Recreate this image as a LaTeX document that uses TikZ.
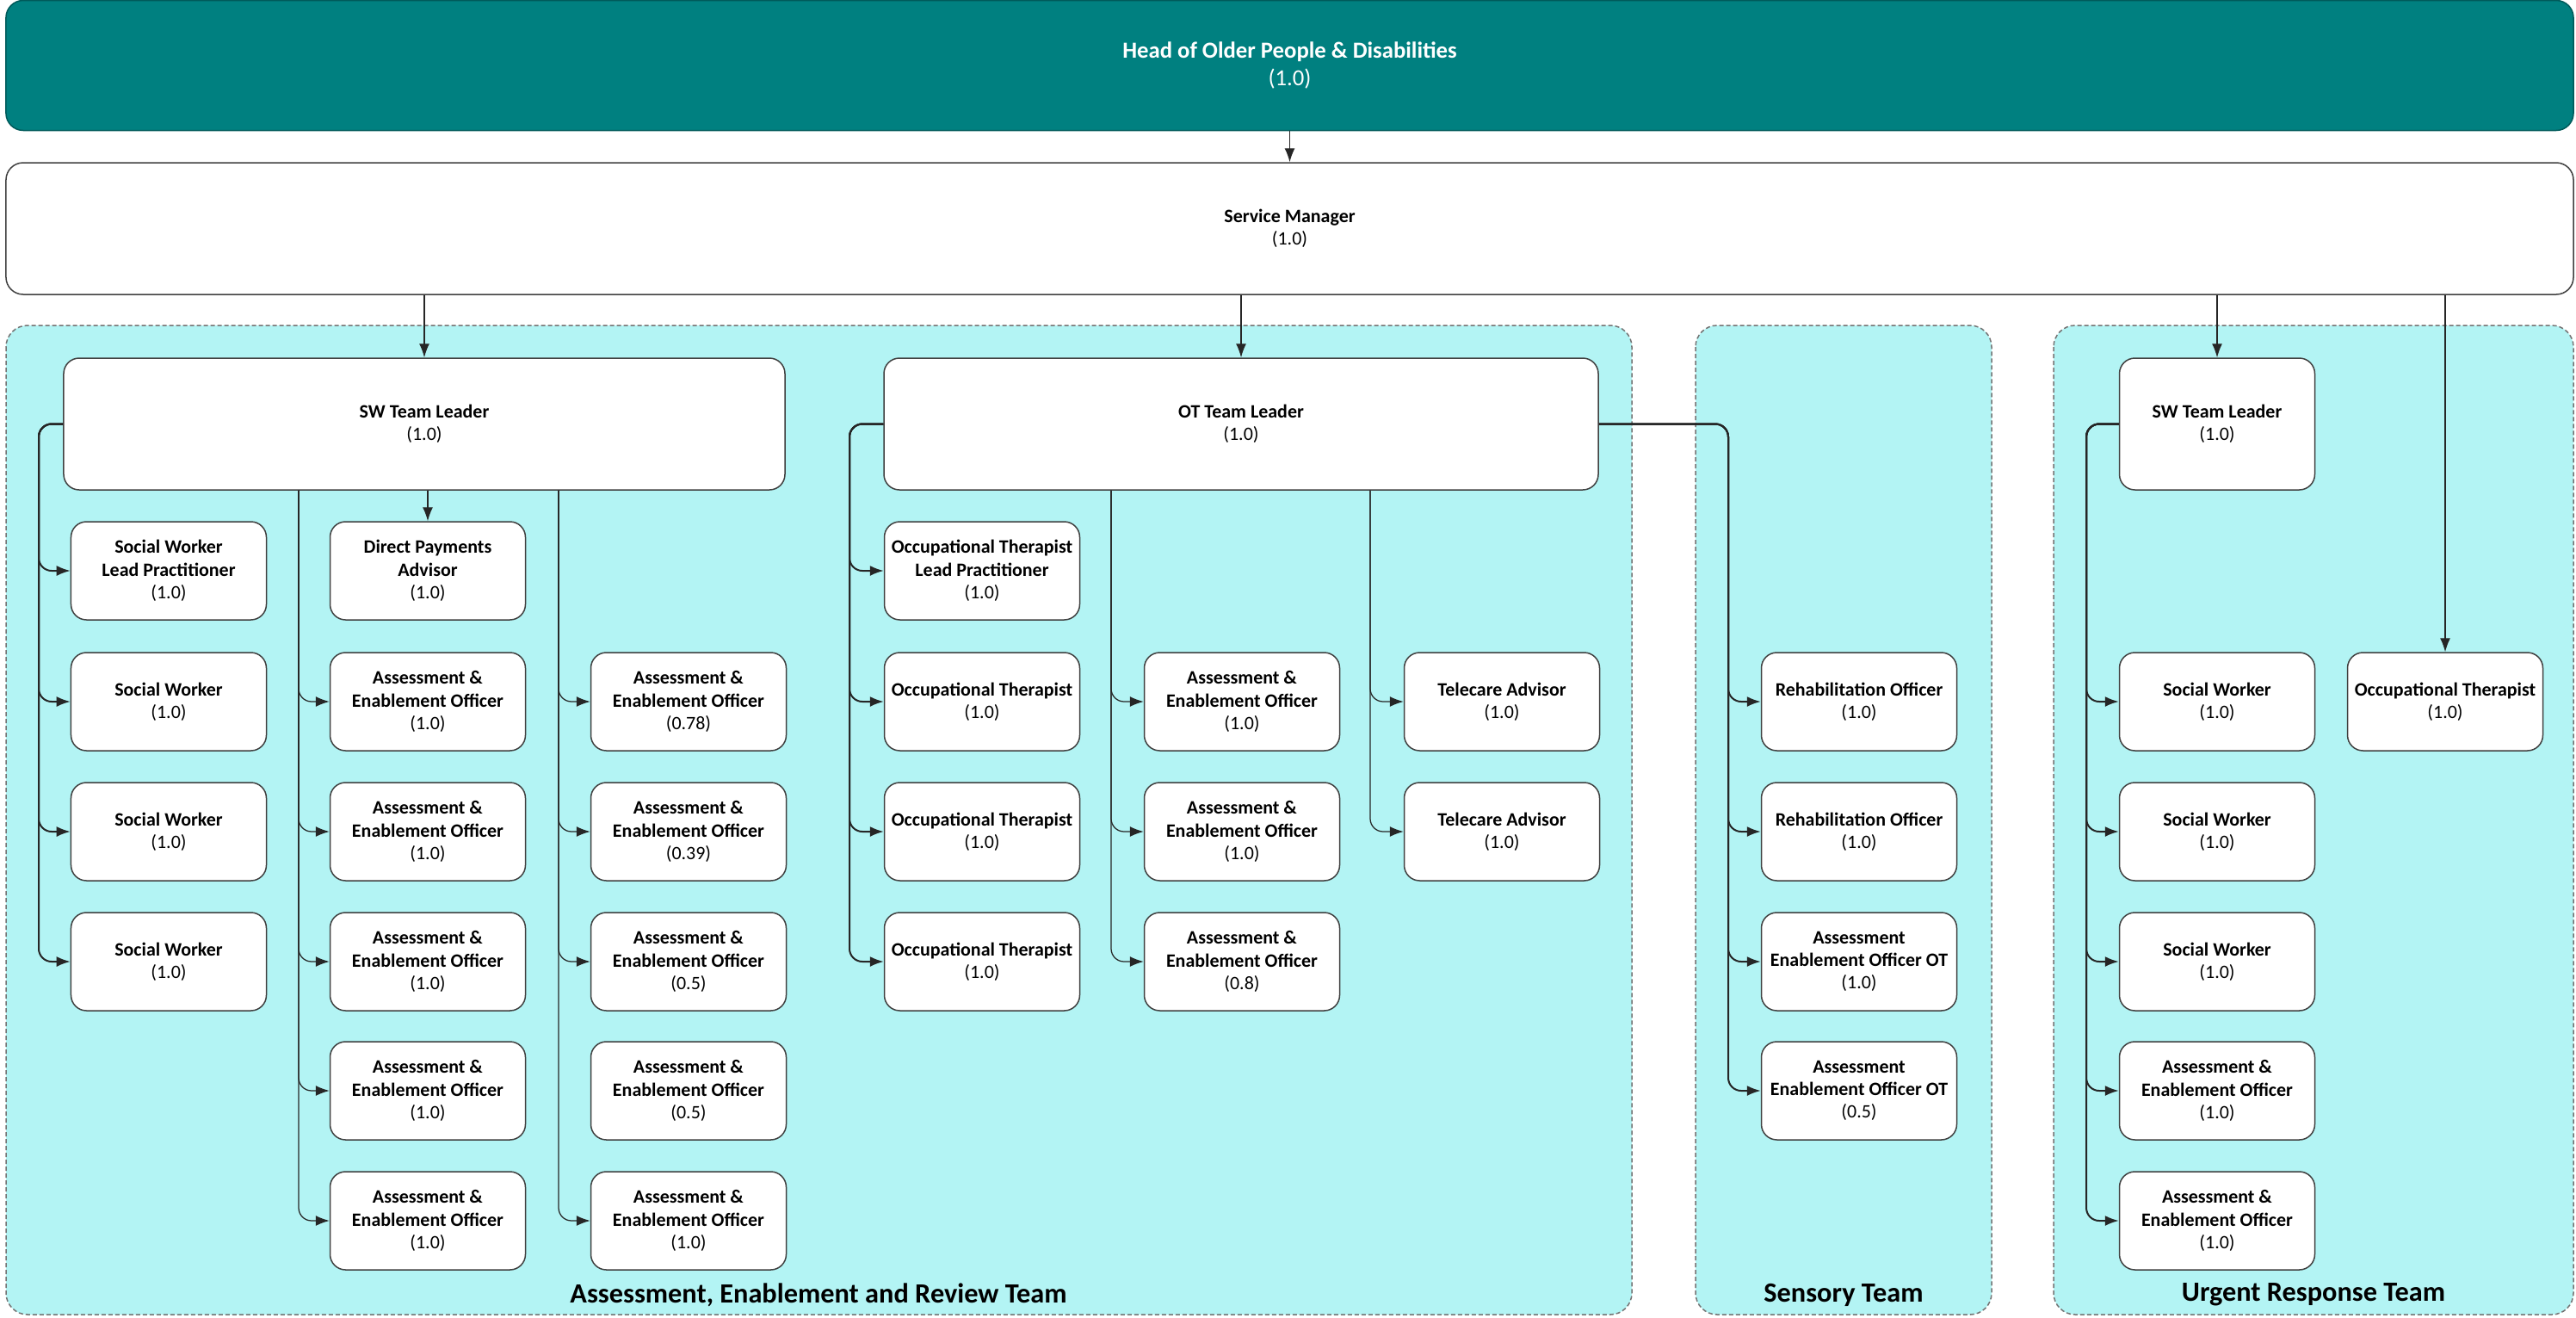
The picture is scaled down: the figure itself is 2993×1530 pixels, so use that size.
\documentclass[tikz,border=0pt]{standalone}
\usepackage{fontspec}
\setmainfont{Carlito}
\usetikzlibrary{arrows.meta}
\definecolor{headteal}{RGB}{0,128,128}
\definecolor{teamcyan}{RGB}{179,244,244}
\newcommand{\role}[2]{\textbf{#1}\\(#2)}
\newcommand{\aeo}[1]{\textbf{Assessment \&}\\\textbf{Enablement Officer}\\(#1)}

\begin{document}
\begin{tikzpicture}[x=0.2mm,y=-0.2mm,
		post/.style={draw=black!75,fill=white,rounded corners=3.6mm,line width=0.3mm,align=center,inner sep=0pt,minimum width=45.4mm,minimum height=22.8mm,font=\fontsize{12.5}{15}\selectfont},
		lead/.style={post,minimum width=167.6mm,minimum height=30.6mm},
		team/.style={draw=black!55,fill=teamcyan,dash pattern=on 1mm off 0.6mm,line width=0.3mm,rounded corners=5mm},
		teamname/.style={font=\fontsize{18.4}{22}\selectfont\bfseries},
		link/.style={-{Latex[length=3.2mm,width=2.4mm]},draw=black!85,line width=0.25mm},
		branch/.style={link,rounded corners=3mm},
		side/.style={branch,line width=0.4mm}]
		\useasboundingbox (0,0) rectangle (2993,1530);
		% team areas
		\draw[team] (7,378) rectangle (1896,1527);
		\draw[team] (1970,378) rectangle (2314,1527);
		\draw[team] (2386,378) rectangle (2990,1527);
		\node[teamname] (aername) at (951,1504) {Assessment, Enablement and Review Team};
		\node[teamname] (sensname) at (2142,1504) {Sensory Team};
		\node[teamname] (urgname) at (2688,1504) {Urgent Response Team};
		% top of the chart
		\node[post,fill=headteal,draw=headteal!70!black,text=white,minimum width=596.6mm,minimum height=30.2mm,rounded corners=4mm,font=\fontsize{15.2}{18}\selectfont] (head) at (1498.5,76) {\role{Head of Older People \& Disabilities}{1.0}};
		\node[post,minimum width=596.6mm,minimum height=30.6mm,rounded corners=4mm] (sm) at (1498.5,265.5) {\role{Service Manager}{1.0}};
		\node[lead] (swtl) at (493,492.5) {\role{SW Team Leader}{1.0}};
		\node[lead,minimum width=166mm] (ottl) at (1442,492.5) {\role{OT Team Leader}{1.0}};
		\node[post,minimum height=30.6mm] (uswtl) at (2576,492.5) {\role{SW Team Leader}{1.0}};
		% social work column
		\node[post] (sw1) at (196,663) {\textbf{Social Worker}\\\textbf{Lead Practitioner}\\(1.0)};
		\node[post] (sw2) at (196,815) {\role{Social Worker}{1.0}};
		\node[post] (sw3) at (196,966) {\role{Social Worker}{1.0}};
		\node[post] (sw4) at (196,1117) {\role{Social Worker}{1.0}};
		\node[post] (dpa) at (497,663) {\textbf{Direct Payments}\\\textbf{Advisor}\\(1.0)};
		\node[post] (aeb2) at (497,815) {\aeo{1.0}};
		\node[post] (aeb3) at (497,966) {\aeo{1.0}};
		\node[post] (aeb4) at (497,1117) {\aeo{1.0}};
		\node[post] (aeb5) at (497,1267) {\aeo{1.0}};
		\node[post] (aeb6) at (497,1418) {\aeo{1.0}};
		\node[post] (aec2) at (800,815) {\aeo{0.78}};
		\node[post] (aec3) at (800,966) {\aeo{0.39}};
		\node[post] (aec4) at (800,1117) {\aeo{0.5}};
		\node[post] (aec5) at (800,1267) {\aeo{0.5}};
		\node[post] (aec6) at (800,1418) {\aeo{1.0}};
		% occupational therapy
		\node[post] (ot1) at (1141,663) {\textbf{Occupational Therapist}\\\textbf{Lead Practitioner}\\(1.0)};
		\node[post] (ot2) at (1141,815) {\role{Occupational Therapist}{1.0}};
		\node[post] (ot3) at (1141,966) {\role{Occupational Therapist}{1.0}};
		\node[post] (ot4) at (1141,1117) {\role{Occupational Therapist}{1.0}};
		\node[post] (aee2) at (1443,815) {\aeo{1.0}};
		\node[post] (aee3) at (1443,966) {\aeo{1.0}};
		\node[post] (aee4) at (1443,1117) {\aeo{0.8}};
		\node[post] (tc2) at (1745,815) {\role{Telecare Advisor}{1.0}};
		\node[post] (tc3) at (1745,966) {\role{Telecare Advisor}{1.0}};
		% sensory
		\node[post] (ro2) at (2160,815) {\role{Rehabilitation Officer}{1.0}};
		\node[post] (ro3) at (2160,966) {\role{Rehabilitation Officer}{1.0}};
		\node[post] (aeot4) at (2160,1117) {\textbf{Assessment}\\\textbf{Enablement Officer OT}\\(1.0)};
		\node[post] (aeot5) at (2160,1267) {\textbf{Assessment}\\\textbf{Enablement Officer OT}\\(0.5)};
		% urgent response
		\node[post] (usw2) at (2576,815) {\role{Social Worker}{1.0}};
		\node[post] (usw3) at (2576,966) {\role{Social Worker}{1.0}};
		\node[post] (usw4) at (2576,1117) {\role{Social Worker}{1.0}};
		\node[post] (uae5) at (2576,1267) {\aeo{1.0}};
		\node[post] (uae6) at (2576,1418) {\aeo{1.0}};
		\node[post] (uot) at (2841,815) {\role{Occupational Therapist}{1.0}};
		% trunk lines
		\coordinate (swL) at (45,0);
		\coordinate (swM) at (347,0);
		\coordinate (swR) at (649,0);
		\coordinate (otL) at (987,0);
		\coordinate (otM) at (1291,0);
		\coordinate (otR) at (1592,0);
		\coordinate (senL) at (2008,0);
		\coordinate (urgL) at (2424,0);
		\draw[link] (head) -- (sm);
		\draw[link] (sm.south -| swtl.north) -- (swtl.north);
		\draw[link] (sm.south -| ottl.north) -- (ottl.north);
		\draw[link] (sm.south -| uswtl.north) -- (uswtl.north);
		\draw[link] (sm.south -| uot.north) -- (uot.north);
		\draw[link] (swtl.south -| dpa.north) -- (dpa.north);
		\foreach \n in {sw1,sw2,sw3,sw4}
			\draw[side] (swtl.west) -| (swL |- \n.west) -- (\n.west);
		\foreach \n in {aeb2,aeb3,aeb4,aeb5,aeb6}
			\draw[branch] (swtl.south -| swM) |- (\n.west);
		\foreach \n in {aec2,aec3,aec4,aec6}
			\draw[branch] (swtl.south -| swR) |- (\n.west);
		\foreach \n in {ot1,ot2,ot3,ot4}
			\draw[side] (ottl.west) -| (otL |- \n.west) -- (\n.west);
		\foreach \n in {aee2,aee3,aee4}
			\draw[branch] (ottl.south -| otM) |- (\n.west);
		\foreach \n in {tc2,tc3}
			\draw[branch] (ottl.south -| otR) |- (\n.west);
		\foreach \n in {ro2,ro3,aeot4,aeot5}
			\draw[side] (ottl.east) -| (senL |- \n.west) -- (\n.west);
		\foreach \n in {usw2,usw3,usw4,uae5,uae6}
			\draw[side] (uswtl.west) -| (urgL |- \n.west) -- (\n.west);
	\end{tikzpicture}
\end{document}
